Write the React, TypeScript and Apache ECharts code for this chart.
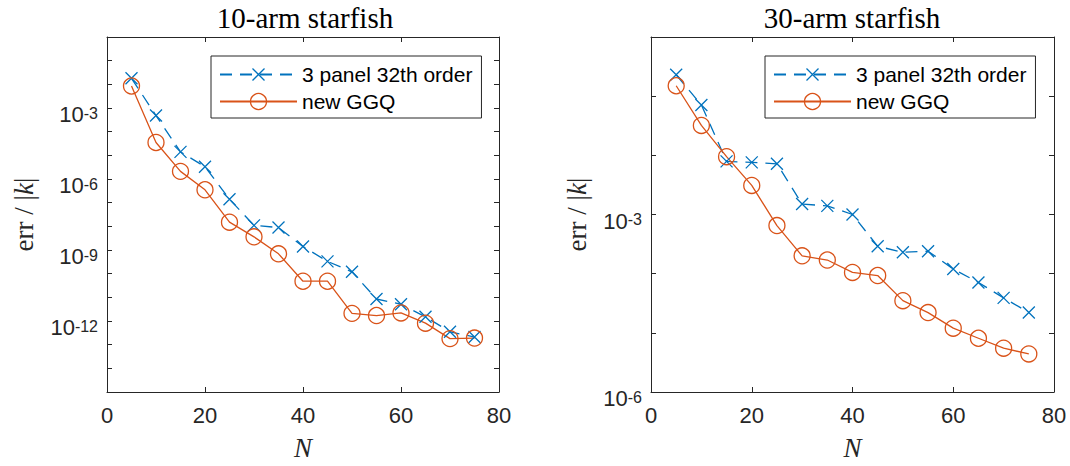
import React, { useEffect, useRef } from "react";
import * as echarts from "echarts";

// ---- data ----
const N = [5, 10, 15, 20, 25, 30, 35, 40, 45, 50, 55, 60, 65, 70, 75];

// 10-arm starfish
const arm10Panel = [1.8e-2, 4.8e-4, 1.4e-5, 3.3e-6, 1.4e-7, 1.1e-8, 8.9e-9, 1.4e-9, 3.3e-10, 1.2e-10, 8.5e-12, 5.1e-12, 1.5e-12, 3.5e-13, 2.1e-13];
const arm10GGQ = [8.5e-3, 3.5e-5, 2.1e-6, 3.5e-7, 1.5e-8, 3.6e-9, 6.9e-10, 4.8e-11, 4.8e-11, 2.1e-12, 1.7e-12, 2.2e-12, 8.1e-13, 1.8e-13, 1.9e-13];

// 30-arm starfish
const arm30Panel = [2.3e-1, 7.1e-2, 7.9e-3, 7.6e-3, 7.2e-3, 1.5e-3, 1.4e-3, 1.0e-3, 2.9e-4, 2.3e-4, 2.4e-4, 1.2e-4, 7.1e-5, 3.9e-5, 2.2e-5];
const arm30GGQ = [1.5e-1, 3.2e-2, 9.5e-3, 3.1e-3, 6.5e-4, 2.0e-4, 1.7e-4, 1.05e-4, 9.3e-5, 3.5e-5, 2.2e-5, 1.2e-5, 8.1e-6, 5.5e-6, 4.4e-6];

const titles = ["10-arm starfish", "30-arm starfish"];
const seriesNames = ["3 panel 32th order", "new GGQ"];
const xTicks = { min: 0, max: 80, step: 20 };
const leftExpRange = [-15, 0];
const rightExpRange = [-6, 0];
const leftLabelExps = [-3, -6, -9, -12];
const rightLabelExps = [-3, -6];

const BLUE = "#0072BD";
const RED = "#D95319";
const AX = "#262626";
const SANS = "Liberation Sans";
const SERIF = "Liberation Serif";

const xMarker = "path://M0,0L0,0M2,2L14,14M14,2L2,14M16,16L16,16";

function pts(vals: number[]) {
  return N.map((n, i) => [n, Math.log10(vals[i])]);
}

function buildAxes(gi: number, range: number[], labels: number[], nameGap: number) {
  const axisLine = { show: true, onZero: false, lineStyle: { color: AX, width: 1 } };
  const axisTick = { show: true, inside: true, length: 5, lineStyle: { color: AX, width: 1 } };
  const x = [
    {
      type: "value", gridIndex: gi, position: "bottom", min: xTicks.min, max: xTicks.max, interval: xTicks.step,
      axisLine, axisTick, splitLine: { show: false },
      axisLabel: { fontFamily: SANS, fontSize: 22, color: AX, margin: 12 },
      name: "N", nameLocation: "middle", nameGap: 42,
      nameTextStyle: { fontFamily: SERIF, fontStyle: "italic", fontSize: 27, color: AX },
    },
    {
      type: "value", gridIndex: gi, position: "top", min: xTicks.min, max: xTicks.max, interval: xTicks.step,
      axisLine, axisTick, splitLine: { show: false }, axisLabel: { show: false },
    },
  ];
  const y = [
    {
      type: "value", gridIndex: gi, position: "left", min: range[0], max: range[1], interval: 1,
      axisLine, axisTick, splitLine: { show: false },
      axisLabel: {
        margin: 9,
        formatter: (v: number) => {
          const e = Math.round(v);
          return labels.indexOf(e) >= 0 ? `{b|10}{s|${e}}` : "";
        },
        rich: {
          b: { fontFamily: SANS, fontSize: 22, color: AX, lineHeight: 22, padding: [13, 0, 0, 0] },
          s: { fontFamily: SANS, fontSize: 16, color: AX, lineHeight: 16, verticalAlign: "top", padding: [8, 0, 0, 0] },
        },
      },
      name: "{r|err / |}{i|k}{r||}", nameLocation: "middle", nameGap,
      nameTextStyle: {
        rich: {
          r: { fontFamily: SERIF, fontSize: 27, color: AX },
          i: { fontFamily: SERIF, fontStyle: "italic", fontSize: 27, color: AX },
        },
      },
    },
    {
      type: "value", gridIndex: gi, position: "right", min: range[0], max: range[1], interval: 1,
      axisLine, axisTick, splitLine: { show: false }, axisLabel: { show: false },
    },
  ];
  return { x, y };
}

function makeSeries(gi: number, panel: number[], ggq: number[]) {
  return [
    {
      type: "line", name: seriesNames[0], xAxisIndex: gi * 2, yAxisIndex: gi * 2, data: pts(panel),
      symbol: xMarker, symbolSize: 16,
      itemStyle: { color: "rgba(0,0,0,0)", borderColor: BLUE, borderWidth: 1.3 },
      lineStyle: { color: BLUE, width: 1.3, type: [12, 8] },
      emphasis: { disabled: true },
    },
    {
      type: "line", name: seriesNames[1], xAxisIndex: gi * 2, yAxisIndex: gi * 2, data: pts(ggq),
      symbol: "circle", symbolSize: 16,
      itemStyle: { color: "rgba(0,0,0,0)", borderColor: RED, borderWidth: 1.3 },
      lineStyle: { color: RED, width: 1.3 },
      emphasis: { disabled: true },
    },
  ];
}

export default function App() {
  const ref = useRef<HTMLDivElement>(null);
  useEffect(() => {
    if (!ref.current) return;
    const chart = echarts.init(ref.current, undefined, { renderer: "svg" });
    const a0 = buildAxes(0, leftExpRange, leftLabelExps, 70);
    const a1 = buildAxes(1, rightExpRange, rightLabelExps, 61);
    const grids = [
      { left: 107, top: 37, width: 392, height: 362 },
      { left: 651, top: 37, width: 403, height: 362 },
    ];
    const legendCommon = {
      orient: "vertical", itemWidth: 77, itemHeight: 20, itemGap: 6,
      padding: [8, 9, 6, 8], borderColor: AX, borderWidth: 1, backgroundColor: "#fff", borderRadius: 0,
      textStyle: { fontFamily: SANS, fontSize: 21, color: "#000", lineHeight: 21, padding: [0, 0, 0, 0] },
      itemStyle: { borderWidth: 1.3 },
      selectedMode: false,
    };
    const s0 = makeSeries(0, arm10Panel, arm10GGQ);
    const s1 = makeSeries(1, arm30Panel, arm30GGQ);
    chart.setOption({
      animation: false,
      backgroundColor: "#fff",
      grid: grids.map((g) => ({ ...g, containLabel: false })),
      xAxis: [...a0.x, ...a1.x],
      yAxis: [...a0.y, ...a1.y],
      legend: [
        { ...legendCommon, left: 211, top: 56, data: seriesNames },
        { ...legendCommon, left: 765, top: 56, data: seriesNames },
      ],
      graphic: [
        { type: "text", x: 305, y: 18, style: { text: titles[0], fontFamily: SERIF, fontSize: 29, fill: "#000", align: "center", verticalAlign: "middle" } },
        { type: "text", x: 852, y: 18, style: { text: titles[1], fontFamily: SERIF, fontSize: 29, fill: "#000", align: "center", verticalAlign: "middle" } },
      ],
      series: [...s0, ...s1],
    });
    return () => chart.dispose();
  }, []);
  return <div ref={ref} style={{ position: "absolute", left: 0, top: 0, width: 1070, height: 466 }} />;
}
